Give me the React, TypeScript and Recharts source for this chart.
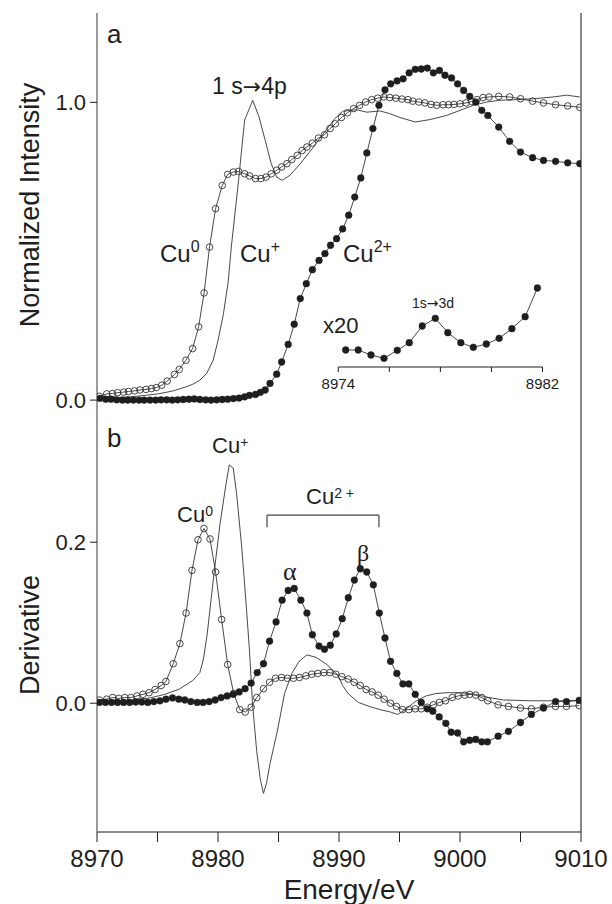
import React from 'react';
import { LineChart, Line, XAxis, YAxis, ReferenceLine } from 'recharts';

// ---------- Panel a : normalized XANES ----------
const cu0E = [8970.2, 8970.8, 8971.27, 8971.7, 8972.2, 8972.6, 8973.1, 8973.55, 8974.05, 8974.5, 8974.9, 8975.35, 8975.8, 8976.4, 8976.8, 8977.35, 8977.9, 8978.4, 8978.85, 8979.3, 8979.8, 8980.35, 8980.8, 8981.27, 8981.7, 8982.2, 8982.6, 8983.1, 8983.55, 8983.97, 8984.4, 8984.85, 8985.26, 8985.7, 8986.1, 8986.55, 8986.95, 8987.35, 8987.8, 8988.3, 8988.8, 8989.26, 8989.7, 8990.2, 8990.7, 8991.2, 8991.7, 8992.2, 8992.7, 8993.2, 8993.7, 8994.2, 8994.7, 8995.2, 8995.7, 8996.1, 8996.6, 8997.1, 8997.6, 8998.07, 8998.6, 8999.05, 8999.5, 9000.0, 9000.5, 9000.96, 9001.4, 9001.9, 9002.4, 9003.2, 9004.1, 9005.0, 9006.0, 9006.9, 9007.9, 9008.9, 9009.9];
const cu0V = [0.013, 0.021, 0.022, 0.025, 0.027, 0.029, 0.031, 0.034, 0.036, 0.039, 0.042, 0.05, 0.064, 0.086, 0.103, 0.134, 0.173, 0.246, 0.36, 0.514, 0.643, 0.721, 0.758, 0.766, 0.768, 0.76, 0.753, 0.744, 0.744, 0.749, 0.76, 0.772, 0.783, 0.794, 0.808, 0.822, 0.838, 0.85, 0.863, 0.88, 0.891, 0.912, 0.928, 0.949, 0.965, 0.979, 0.99, 1.001, 1.009, 1.014, 1.018, 1.016, 1.014, 1.011, 1.009, 1.004, 1.001, 0.998, 0.993, 0.99, 0.992, 0.992, 0.993, 0.995, 0.998, 1.003, 1.009, 1.016, 1.018, 1.02, 1.018, 1.012, 1.004, 0.998, 0.992, 0.988, 0.983];

const cu1E = [8970.0, 8971.5, 8973.0, 8974.0, 8975.2, 8976.3, 8977.4, 8978.0, 8978.5, 8979.07, 8979.6, 8980.0, 8980.45, 8980.85, 8981.1, 8981.4, 8981.7, 8982.2, 8982.87, 8983.4, 8983.9, 8984.4, 8984.85, 8985.3, 8985.95, 8986.8, 8987.9, 8988.1, 8989.0, 8989.6, 8990.3, 8991.45, 8992.3, 8993.4, 8994.2, 8995.04, 8996.3, 8997.5, 8998.9, 9000.0, 9001.1, 9002.2, 9003.3, 9004.7, 9006.06, 9007.7, 9008.8, 9009.9];
const cu1V = [0.005, 0.008, 0.012, 0.016, 0.022, 0.031, 0.045, 0.055, 0.067, 0.09, 0.134, 0.2, 0.29, 0.4, 0.514, 0.626, 0.738, 0.94, 1.007, 0.95, 0.872, 0.794, 0.749, 0.738, 0.755, 0.794, 0.85, 0.862, 0.91, 0.943, 0.97, 0.975, 0.967, 0.971, 0.962, 0.949, 0.934, 0.942, 0.956, 0.973, 0.99, 1.001, 1.007, 1.009, 1.012, 1.018, 1.024, 1.018];

const cu2E = [8970.25, 8970.72, 8971.16, 8971.63, 8972.1, 8972.54, 8973.0, 8973.47, 8973.9, 8974.38, 8974.85, 8975.29, 8975.76, 8976.22, 8976.67, 8977.13, 8977.6, 8978.04, 8978.5, 8978.98, 8979.42, 8979.89, 8980.35, 8980.8, 8981.27, 8981.74, 8982.2, 8982.6, 8983.1, 8983.5, 8983.9, 8984.3, 8984.85, 8985.26, 8985.8, 8986.3, 8986.8, 8987.3, 8987.8, 8988.35, 8988.84, 8989.3, 8989.8, 8990.3, 8990.8, 8991.3, 8991.8, 8992.3, 8992.8, 8993.3, 8993.8, 8994.27, 8994.8, 8995.3, 8995.8, 8996.3, 8996.8, 8997.3, 8997.8, 8998.3, 8998.76, 8999.3, 8999.8, 9000.3, 9000.8, 9001.3, 9001.8, 9002.3, 9003.2, 9004.1, 9005.0, 9006.0, 9006.9, 9007.9, 9008.9, 9009.9];
const cu2V = [0.006, 0.003, 0.003, 0.001, 0.0, 0.0, 0.0, 0.0, 0.0, 0.0, 0.0, 0.001, 0.001, 0.0, 0.001, 0.002, 0.003, 0.004, 0.002, 0.001, 0.0, 0.001, 0.002, 0.003, 0.005, 0.007, 0.011, 0.016, 0.019, 0.026, 0.034, 0.056, 0.087, 0.128, 0.187, 0.255, 0.341, 0.391, 0.438, 0.469, 0.492, 0.52, 0.542, 0.575, 0.621, 0.682, 0.746, 0.83, 0.912, 0.99, 1.042, 1.062, 1.072, 1.079, 1.099, 1.111, 1.112, 1.115, 1.099, 1.107, 1.091, 1.082, 1.062, 1.04, 1.02, 1.001, 0.973, 0.956, 0.917, 0.869, 0.833, 0.814, 0.805, 0.802, 0.797, 0.794];

// inset: x20 pre-edge of Cu2+
const insetE = [8974.29, 8974.78, 8975.28, 8975.79, 8976.31, 8976.78, 8977.29, 8977.8, 8978.29, 8978.8, 8979.29, 8979.8, 8980.3, 8980.8, 8981.32, 8981.8];
const insetV = [0.17, 0.17, 0.12, 0.087, 0.167, 0.243, 0.41, 0.487, 0.343, 0.243, 0.197, 0.23, 0.287, 0.383, 0.503, 0.79];
const insetTicks = [8974, 8976, 8978, 8980, 8982];

// ---------- Panel b : derivative ----------
const d0E = [8970.2, 8970.8, 8971.3, 8971.8, 8972.3, 8972.8, 8973.3, 8973.8, 8974.3, 8974.8, 8975.3, 8975.7, 8976.3, 8976.85, 8977.36, 8977.85, 8978.35, 8978.84, 8979.34, 8979.8, 8980.3, 8980.8, 8981.3, 8981.8, 8982.25, 8982.74, 8983.2, 8983.76, 8984.26, 8984.75, 8985.25, 8985.74, 8986.24, 8986.73, 8987.26, 8987.75, 8988.25, 8988.75, 8989.24, 8989.74, 8990.23, 8990.76, 8991.25, 8991.75, 8992.24, 8992.74, 8993.24, 8993.73, 8994.26, 8994.75, 8995.25, 8995.77, 8996.3, 8996.8, 8997.3, 8997.8, 8998.3, 8998.8, 8999.36, 8999.85, 9000.4, 9000.8, 9001.3, 9001.8, 9002.3, 9003.15, 9004.0, 9005.0, 9005.9, 9006.9, 9007.9, 9008.8, 9009.85];
const d0V = [0.004, 0.005, 0.007, 0.006, 0.007, 0.007, 0.009, 0.011, 0.013, 0.017, 0.022, 0.027, 0.049, 0.074, 0.112, 0.165, 0.203, 0.217, 0.204, 0.163, 0.104, 0.048, 0.012, -0.008, -0.011, -0.005, 0.007, 0.018, 0.026, 0.031, 0.032, 0.031, 0.031, 0.032, 0.034, 0.036, 0.037, 0.038, 0.038, 0.036, 0.033, 0.03, 0.026, 0.022, 0.017, 0.014, 0.01, 0.005, 0.0, -0.004, -0.008, -0.008, -0.007, -0.007, -0.005, -0.002, 0.001, 0.003, 0.007, 0.009, 0.01, 0.011, 0.01, 0.007, 0.003, -0.002, -0.004, -0.006, -0.007, -0.005, -0.004, -0.004, -0.003];

const d1E = [8970.0, 8971.5, 8972.7, 8973.6, 8974.4, 8975.6, 8976.8, 8977.9, 8978.5, 8978.8, 8979.1, 8979.67, 8980.17, 8980.63, 8980.93, 8981.26, 8981.54, 8981.96, 8982.3, 8982.6, 8982.85, 8983.2, 8983.5, 8983.76, 8984.0, 8984.3, 8984.9, 8985.5, 8986.1, 8986.7, 8987.35, 8988.1, 8989.0, 8989.9, 8990.3, 8990.75, 8991.6, 8992.5, 8993.4, 8994.26, 8994.84, 8995.4, 8996.3, 8997.2, 8998.0, 8998.9, 9000.1, 9001.25, 9002.4, 9003.6, 9004.75, 9005.9, 9007.1, 9008.25, 9009.85];
const d1V = [0.002, 0.003, 0.0035, 0.005, 0.0066, 0.011, 0.0175, 0.028, 0.038, 0.055, 0.085, 0.161, 0.223, 0.269, 0.296, 0.292, 0.26, 0.194, 0.128, 0.066, 0.0, -0.06, -0.095, -0.112, -0.1, -0.075, -0.035, 0.012, 0.037, 0.052, 0.06, 0.057, 0.048, 0.035, 0.022, 0.012, 0.001, -0.004, -0.008, -0.011, -0.014, -0.009, 0.002, 0.009, 0.012, 0.013, 0.013, 0.011, 0.007, 0.004, 0.0035, 0.003, 0.003, 0.003, 0.0035];

const d2E = [8970.2, 8970.7, 8971.2, 8971.7, 8972.2, 8972.7, 8973.2, 8973.7, 8974.2, 8974.7, 8975.2, 8975.7, 8976.24, 8976.76, 8977.25, 8977.75, 8978.28, 8978.77, 8979.27, 8979.77, 8980.26, 8980.76, 8981.25, 8981.75, 8982.24, 8982.74, 8983.24, 8983.76, 8984.26, 8984.8, 8985.3, 8985.8, 8986.3, 8986.85, 8987.35, 8987.8, 8988.35, 8988.8, 8989.28, 8989.77, 8990.27, 8990.77, 8991.27, 8991.76, 8992.29, 8992.84, 8993.33, 8993.8, 8994.26, 8994.78, 8995.28, 8995.77, 8996.3, 8996.8, 8997.3, 8997.75, 8998.28, 8998.83, 8999.27, 8999.8, 9000.3, 9000.8, 9001.3, 9001.8, 9002.27, 9003.15, 9004.0, 9005.0, 9005.9, 9006.9, 9007.9, 9008.8, 9009.85];
const d2V = [0.001, 0.001, 0.001, 0.001, 0.001, 0.001, 0.0015, 0.0015, 0.001, 0.002, 0.003, 0.005, 0.0066, 0.005, 0.004, 0.002, 0.001, 0.001, 0.002, 0.004, 0.007, 0.009, 0.011, 0.014, 0.018, 0.025, 0.038, 0.049, 0.077, 0.101, 0.128, 0.14, 0.1425, 0.128, 0.112, 0.085, 0.071, 0.067, 0.072, 0.086, 0.105, 0.131, 0.153, 0.167, 0.163, 0.147, 0.112, 0.081, 0.052, 0.037, 0.024, 0.024, 0.011, 0.001, -0.007, -0.01, -0.017, -0.025, -0.036, -0.037, -0.048, -0.046, -0.045, -0.048, -0.048, -0.041, -0.035, -0.024, -0.014, -0.006, 0.002, 0.002, 0.0035];

const xTicks = [8970, 8975, 8980, 8985, 8990, 8995, 9000, 9005, 9010];
const aTicks = [0, 1.0];
const bTicks = [0, 0.2];
const bracketX = [8984.05, 8993.3];
const bracketY = [0.2335, 0.2186];

const zip = (e: number[], v: number[]) => e.map((x, i) => ({ e: x, v: v[i] }));
const cu0 = zip(cu0E, cu0V);
const cu1 = zip(cu1E, cu1V);
const cu2 = zip(cu2E, cu2V);
const inset = zip(insetE, insetV);
const d0 = zip(d0E, d0V);
const d1 = zip(d1E, d1V);
const d2 = zip(d2E, d2V);

const FONT = '"Liberation Sans", Arial, Helvetica, sans-serif';
const ARROW = '"DejaVu Sans", sans-serif';
const INK = '#1e1e1e';
const GRAY = '#7a7a7a';
const openDot = { r: 3.3, fill: 'none', stroke: '#333', strokeWidth: 0.9 };
const fillDot = { r: 3.4, fill: INK, stroke: INK, strokeWidth: 0.4 };

export default function App() {
  return (
    <div style={{ position: 'absolute', left: 0, top: 0, width: 612, height: 904, background: '#fff', fontFamily: FONT }}>
      {/* Panel a */}
      <div style={{ position: 'absolute', left: 0, top: 0 }}>
        <LineChart width={612} height={420} margin={{ top: 13, right: 31, bottom: 5, left: 0 }}>
          <XAxis dataKey="e" type="number" domain={[8970, 9010]} allowDataOverflow height={0} tick={false} tickLine={false} axisLine={{ stroke: INK, strokeWidth: 1.2 }} />
          <XAxis xAxisId="top" orientation="top" type="number" domain={[8970, 9010]} ticks={xTicks} height={0} mirror tick={false} tickSize={6} tickLine={{ stroke: INK }} axisLine={{ stroke: INK, strokeWidth: 1.2 }} />
          <YAxis type="number" domain={[-0.05, 1.3]} allowDataOverflow ticks={aTicks} width={97} tickSize={7} tickMargin={4}
            tickFormatter={(v: number) => v.toFixed(1)} tick={{ fontSize: 22, fill: INK, fontFamily: FONT }}
            axisLine={{ stroke: GRAY, strokeWidth: 1.5 }} tickLine={{ stroke: INK }} />
          <ReferenceLine x={9010} stroke={GRAY} strokeWidth={1.8} />
          <Line data={cu1} dataKey="v" stroke="#333" strokeWidth={0.9} dot={false} activeDot={false} isAnimationActive={false} />
          <Line data={cu0} dataKey="v" stroke="#333" strokeWidth={0.9} dot={openDot} activeDot={false} isAnimationActive={false} />
          <Line data={cu2} dataKey="v" stroke="#333" strokeWidth={0.9} dot={fillDot} activeDot={false} isAnimationActive={false} />
        </LineChart>
      </div>

      {/* Inset */}
      <div style={{ position: 'absolute', left: 310, top: 257 }}>
        <LineChart width={262} height={140} margin={{ top: 10, right: 29.5, bottom: 0, left: 28.3 }}>
          <XAxis dataKey="e" type="number" domain={[8974, 8982]} allowDataOverflow ticks={insetTicks} height={30} tickSize={5} tickMargin={6}
            tickFormatter={(v: number) => (v === 8974 || v === 8982 ? String(v) : '')}
            tick={{ fontSize: 15, fill: INK, fontFamily: FONT }} axisLine={{ stroke: INK }} tickLine={{ stroke: INK }} />
          <YAxis hide type="number" domain={[0, 1]} allowDataOverflow />
          <Line data={inset} dataKey="v" stroke="#333" strokeWidth={0.9} dot={fillDot} activeDot={false} isAnimationActive={false} />
        </LineChart>
      </div>

      {/* Panel b */}
      <div style={{ position: 'absolute', left: 0, top: 400 }}>
        <LineChart width={612} height={504} margin={{ top: 15, right: 31, bottom: 0, left: 0 }}>
          <XAxis dataKey="e" type="number" domain={[8970, 9010]} allowDataOverflow ticks={xTicks} height={72} tickSize={10} tickMargin={8}
            tickFormatter={(v: number) => (v % 10 === 0 ? String(v) : '')}
            tick={{ fontSize: 24, fill: INK, fontFamily: FONT }} axisLine={{ stroke: INK, strokeWidth: 1.2 }} tickLine={{ stroke: INK }}
            label={{ value: 'Energy/eV', position: 'insideBottom', offset: 5, dx: 10, fontSize: 28, fill: INK, fontFamily: FONT }} />
          <YAxis type="number" domain={[-0.16, 0.358]} allowDataOverflow ticks={bTicks} width={97} tickSize={7} tickMargin={4}
            tickFormatter={(v: number) => v.toFixed(1)} tick={{ fontSize: 22, fill: INK, fontFamily: FONT }}
            axisLine={{ stroke: GRAY, strokeWidth: 1.5 }} tickLine={{ stroke: INK }} />
          <ReferenceLine x={9010} stroke={GRAY} strokeWidth={1.8} />
          <ReferenceLine segment={[{ x: bracketX[0], y: bracketY[0] }, { x: bracketX[1], y: bracketY[0] }]} stroke="#444" strokeWidth={1.2} />
          <ReferenceLine segment={[{ x: bracketX[0], y: bracketY[0] }, { x: bracketX[0], y: bracketY[1] }]} stroke="#444" strokeWidth={1.2} />
          <ReferenceLine segment={[{ x: bracketX[1], y: bracketY[0] }, { x: bracketX[1], y: bracketY[1] }]} stroke="#444" strokeWidth={1.2} />
          <Line data={d1} dataKey="v" stroke="#333" strokeWidth={0.9} dot={false} activeDot={false} isAnimationActive={false} />
          <Line data={d0} dataKey="v" stroke="#333" strokeWidth={0.9} dot={openDot} activeDot={false} isAnimationActive={false} />
          <Line data={d2} dataKey="v" stroke="#333" strokeWidth={0.9} dot={fillDot} activeDot={false} isAnimationActive={false} />
        </LineChart>
      </div>

      {/* Annotations */}
      <svg width={612} height={904} style={{ position: 'absolute', left: 0, top: 0, pointerEvents: 'none' }} fontFamily={FONT} fill={INK}>
        <text x={30} y={205} transform="rotate(-90 30 205)" textAnchor="middle" dominantBaseline="central" fontSize={27}>Normalized Intensity</text>
        <text x={30} y={635} transform="rotate(-90 30 635)" textAnchor="middle" dominantBaseline="central" fontSize={27}>Derivative</text>

        <text x={107} y={43} fontSize={26}>a</text>
        <text x={212} y={94} fontSize={23}>1 s<tspan fontFamily={ARROW} fontSize={22}>→</tspan>4p</text>
        <text x={160} y={262} fontSize={24}>Cu<tspan fontSize={16} dy={-10}>0</tspan></text>
        <text x={240} y={262} fontSize={24}>Cu<tspan fontSize={16} dy={-10}>+</tspan></text>
        <text x={343} y={262} fontSize={24}>Cu<tspan fontSize={16} dy={-10}>2+</tspan></text>
        <text x={323} y={333} fontSize={22}>x20</text>
        <text x={433} y={308} fontSize={14} textAnchor="middle">1s<tspan fontFamily={ARROW} fontSize={14}>→</tspan>3d</text>

        <text x={107} y={447} fontSize={26}>b</text>
        <text x={212} y={453} fontSize={22}>Cu<tspan fontSize={14} dy={-6}>+</tspan></text>
        <text x={177} y={522} fontSize={22}>Cu<tspan fontSize={14} dy={-6}>0</tspan></text>
        <text x={306} y={504} fontSize={22}>Cu<tspan fontSize={14} dy={-6}>2 +</tspan></text>
        <text x={283} y={580} fontSize={26} fontFamily='"Liberation Serif", serif'>α</text>
        <text x={357} y={561} fontSize={24} fontFamily='"Liberation Serif", serif'>β</text>
      </svg>
    </div>
  );
}
